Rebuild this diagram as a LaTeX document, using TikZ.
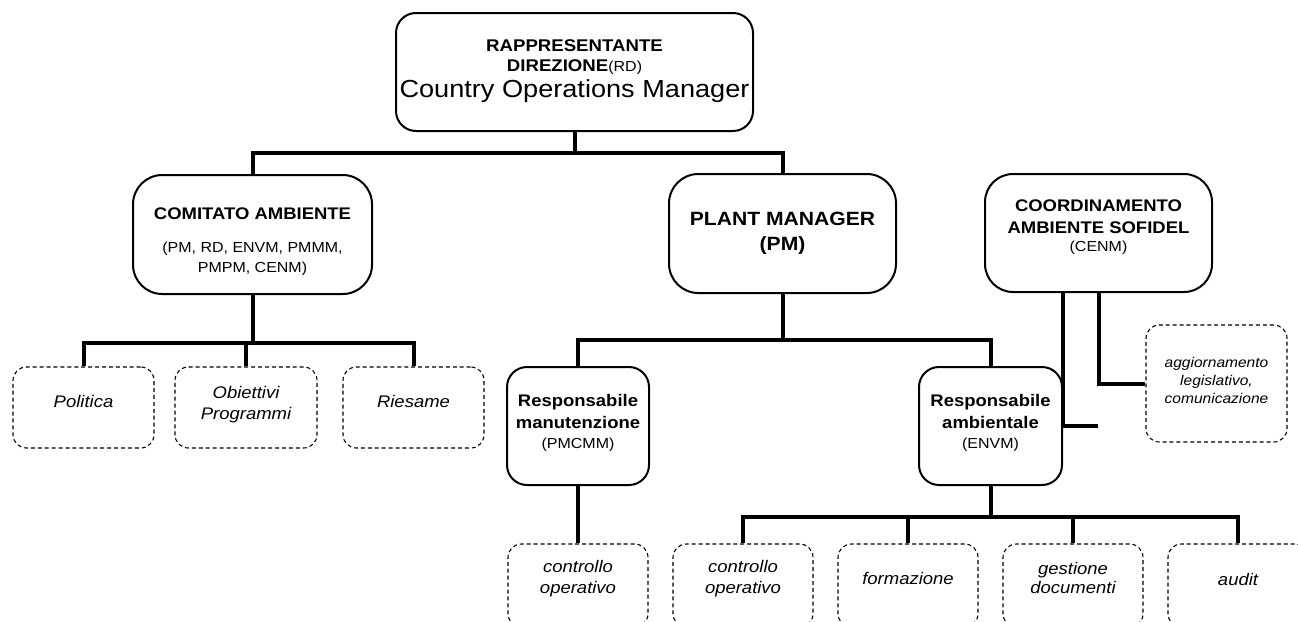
\documentclass[tikz,border=0pt]{standalone}
\usepackage{fontspec}
\setmainfont{Liberation Sans}[FakeStretch=1.1]
\newcommand\fsz[2]{\fontsize{#1}{#2}\selectfont}
\newcommand\dn[1]{\rule[-#1]{0pt}{0pt}}
\newcommand\upr[1]{\rule{0pt}{#1}}
\begin{document}
\begin{tikzpicture}[x=0.75pt,y=-0.75pt,
  sz/.style 2 args={minimum width=0.75pt*#1, minimum height=0.75pt*#2},
  solidbox/.style={draw, line width=1.5pt, inner sep=0pt, align=center},
  dashbox/.style={draw, line width=0.8pt, dash pattern=on 3pt off 2.2pt, rounded corners=10pt, inner sep=0pt, align=center, font=\itshape\fsz{12.6}{15.75}},
  conn/.style={line width=3pt}]
\useasboundingbox (0,0) rectangle (1298,621);
\clip (0,0) rectangle (1298,621);

% solid boxes
\node[solidbox, rounded corners=15pt, sz={357}{118}, font=\fsz{12.7}{15}] (rd) at (574.5,72)
  {\textbf{RAPPRESENTANTE}\\ \textbf{DIREZIONE}{\fsz{10.9}{15}(RD)}\\[3pt] {\fsz{18.5}{22}Country Operations Manager\dn{4.6pt}}};
\node[solidbox, rounded corners=22pt, sz={239}{119}, font=\fsz{12.6}{15}] (com) at (252.5,234.5)
  {\upr{19.6pt}\textbf{COMITATO AMBIENTE}\\[10pt] {\fsz{10.9}{15}(PM, RD, ENVM, PMMM,}\\ {\fsz{10.9}{15}PMPM, CENM)}};
\node[solidbox, rounded corners=22pt, sz={227}{119}, font=\bfseries\fsz{14.4}{18.75}] (pm) at (782.5,233.5)
  {PLANT MANAGER\\ (PM)};
\node[solidbox, rounded corners=21pt, sz={227}{118}, font=\fsz{12.6}{16.5}] (cenm) at (1098.5,233)
  {\textbf{COORDINAMENTO}\\ \textbf{AMBIENTE SOFIDEL}\\[-3pt] {\fsz{10.9}{13.5}(CENM)\dn{11.3pt}}};
\node[solidbox, rounded corners=15pt, sz={142}{118}, font=\fsz{12.6}{16.5}] (rman) at (578,426)
  {\textbf{Responsabile}\\ \textbf{manutenzione}\\[-2pt] {\fsz{10.9}{15}(PMCMM)\dn{6.8pt}}};
\node[solidbox, rounded corners=15pt, sz={143}{118}, font=\fsz{12.6}{16.5}] (ramb) at (990.5,426)
  {\textbf{Responsabile}\\ \textbf{ambientale}\\[-2pt] {\fsz{10.9}{15}(ENVM)\dn{6.8pt}}};

% dashed boxes
\node[dashbox, sz={141}{81}] (pol) at (83.5,407.5) {Politica\dn{9pt}};
\node[dashbox, sz={142}{81}] (obi) at (246,407.5) {Obiettivi\\ Programmi\dn{6.4pt}};
\node[dashbox, sz={141}{81}] (ries) at (413.5,407.5) {Riesame\dn{9pt}};
\node[dashbox, sz={141}{117}, font=\itshape\fsz{10.6}{13.5}] (agg) at (1216.5,383.5)
  {aggiornamento\\ legislativo,\\ comunicazione\dn{4.5pt}};
\node[dashbox, sz={140}{83}] (co1) at (578,585.5) {controllo\\ operativo\dn{13.1pt}};
\node[dashbox, sz={140}{83}] (co2) at (743,585.5) {controllo\\ operativo\dn{13.1pt}};
\node[dashbox, sz={140}{83}] (form) at (908,585.5) {formazione\dn{10.5pt}};
\node[dashbox, sz={140}{83}] (gest) at (1073,585.5) {gestione\\[-1.5pt] documenti\dn{12pt}};
\node[dashbox, sz={140}{83}] (aud) at (1238,585.5) {audit\dn{9pt}};

% connectors
\coordinate (j1) at (575,153);
\draw[conn] (rd.south) -- (rd.south |- j1);
\draw[conn] (com.north) |- (j1) -| (pm.north);

\coordinate (j2) at (253,343);
\draw[conn] (com.south) -- (com.south |- j2);
\draw[conn] (pol.north) |- (j2) -| (ries.north);
\draw[conn] (obi.north) -- (obi.north |- j2);

\coordinate (j3) at (783,340);
\draw[conn] (pm.south) -- (pm.south |- j3);
\draw[conn] (rman.north) |- (j3) -| (ramb.north);

\draw[conn] (rman.south) -- (co1.north);

\coordinate (j4) at (991,517);
\draw[conn] (ramb.south) -- (ramb.south |- j4);
\draw[conn] (co2.north) |- (j4) -| (aud.north);
\draw[conn] (form.north) -- (form.north |- j4);
\draw[conn] (gest.north) -- (gest.north |- j4);

\coordinate (k1) at (1063,426);
\coordinate (k1e) at (1098,426);
\draw[conn] (cenm.south -| k1) -- (k1) -- (k1e);
\coordinate (k2) at (1099,383);
\draw[conn] (cenm.south -| k2) |- (agg.west);
\end{tikzpicture}
\end{document}
